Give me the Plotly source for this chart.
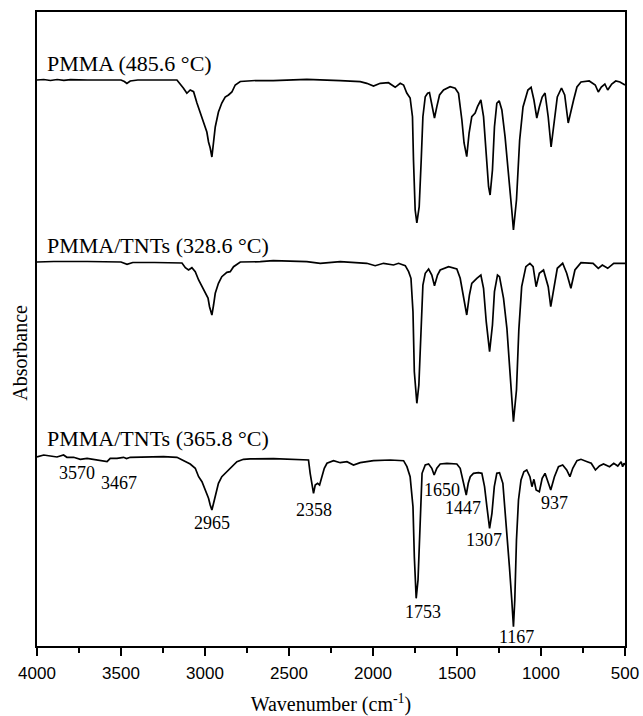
import plotly.graph_objects as go

# ---- Data (arbitrary absorbance units) ----
# Each spectrum: wavenumbers (cm-1) and band depth below its own stacked baseline
wn_pmma = [4000, 3960, 3920, 3880, 3840, 3800, 3700, 3600, 3500, 3480, 3465, 3445, 3400, 3300, 3200, 3167,
           3128, 3108, 3088, 3068, 3048, 3028, 3009, 2989, 2979, 2969, 2959, 2949, 2939, 2920, 2900, 2880,
           2860, 2840, 2820, 2790, 2700, 2594, 2394, 2195, 2076, 2037, 1997, 1957, 1908, 1868, 1838, 1818,
           1799, 1779, 1765, 1759, 1749, 1739, 1725, 1713, 1703, 1689, 1675, 1664, 1650, 1634, 1620, 1604,
           1580, 1541, 1511, 1491, 1471, 1458, 1442, 1428, 1412, 1392, 1378, 1358, 1342, 1326, 1312, 1303,
           1289, 1277, 1263, 1249, 1233, 1214, 1194, 1174, 1164, 1146, 1127, 1107, 1078, 1059, 1042, 1025,
           1010, 993, 976, 957, 940, 920, 903, 878, 859, 838, 822, 806, 786, 762, 713, 677, 659, 641, 620,
           603, 579, 555, 530, 506, 500]
band_pmma = [0, -0.5, 0.5, -0.5, 0.3, -0.3, 0, 0, 0, 1.5, 3.5, 1, 0, 0, 0, 0,
             8.3, 13.3, 10, 11.7, 23, 33, 42, 52, 62, 68, 77, 63, 47, 32, 23, 17,
             15, 12, 5, 1.5, 0.5, 0.7, -0.7, 0.7, 1.7, 3.3, 6, 3.3, 2.7, 7.3, 3.3, 5,
             13, 18, 36.7, 80, 130, 143, 126.7, 80, 36.7, 16.7, 13.3, 12.7, 23, 38, 26.7, 15,
             10, 6.7, 8.3, 13.3, 40, 63, 76.7, 53, 36.7, 33, 26.7, 20, 36.7, 73, 106.7, 115,
             90, 46.7, 23.3, 20.7, 30, 56.7, 90, 130, 150, 120, 60, 27, 10, 7.3, 20, 38,
             27, 17, 13, 37, 67, 40, 17, 8, 15, 43, 30, 20, 7, 2, 1, 5, 12, 7, 4,
             10, 4, 1, 2, 5, 5]

wn_tnt1 = [4000, 3900, 3700, 3500, 3464, 3430, 3300, 3137, 3117, 3098, 3078, 3058, 3038, 3018, 2998, 2982,
           2973, 2959, 2949, 2939, 2920, 2900, 2870, 2850, 2830, 2800, 2790, 2671, 2594, 2394, 2314, 2195,
           2037, 1987, 1937, 1878, 1848, 1808, 1788, 1774, 1762, 1754, 1739, 1727, 1715, 1703, 1689, 1669,
           1650, 1634, 1616, 1600, 1550, 1501, 1481, 1461, 1442, 1426, 1412, 1382, 1358, 1342, 1326, 1306,
           1289, 1277, 1259, 1247, 1223, 1203, 1183, 1164, 1146, 1132, 1115, 1090, 1066, 1047, 1029, 1010,
           985, 957, 942, 920, 903, 871, 847, 822, 798, 762, 690, 659, 635, 603, 567, 506, 500]
band_tnt1 = [0, -0.5, -0.5, 0, 2.3, 0.5, 0.5, 1, 5.7, 8, 5.7, 9.7, 18, 24.7, 31.3, 36,
             44.7, 53, 43, 31.3, 21.3, 14.7, 10.3, 9.7, 4.7, 1.3, 0, -0.3, -1.3, -0.3, 1.3, -0.3,
             1.3, 3.7, 1.3, 3, 1.3, 3.7, 9.7, 16.3, 49.7, 109.7, 141.3, 123, 66, 23, 11.3, 7,
             13, 23.7, 13, 8, 4.7, 7, 16.3, 36.3, 53, 33, 21.3, 16.3, 13, 26.3, 59.7, 89.7,
             63, 29.7, 13, 14.7, 36.3, 66.3, 109.7, 159.7, 128, 68, 24.7, 4.7, 1.3, 4.7, 24.7, 11.3,
             8, 24.7, 44.7, 24.7, 6.3, 1.3, 11.3, 26.3, 8, 0.7, 1.3, 6.3, 3, 6.3, 1.3, 1.3, 1.3]

wn_tnt2 = [4000, 3960, 3921, 3881, 3842, 3822, 3782, 3742, 3702, 3663, 3623, 3583, 3564, 3524, 3485, 3467,
           3445, 3345, 3247, 3167, 3127, 3088, 3058, 3038, 3018, 2998, 2979, 2969, 2959, 2949, 2935, 2920,
           2900, 2870, 2840, 2810, 2771, 2731, 2592, 2394, 2384, 2374, 2364, 2354, 2344, 2330, 2318, 2304,
           2290, 2274, 2235, 2195, 2155, 2116, 2076, 1997, 1897, 1818, 1798, 1779, 1762, 1754, 1743, 1732,
           1720, 1708, 1689, 1669, 1650, 1636, 1620, 1600, 1560, 1501, 1481, 1465, 1455, 1445, 1433, 1421,
           1402, 1372, 1352, 1336, 1322, 1306, 1292, 1278, 1263, 1247, 1227, 1207, 1188, 1174, 1164, 1156,
           1146, 1134, 1119, 1102, 1085, 1066, 1054, 1042, 1029, 1010, 993, 976, 957, 942, 920, 896,
           871, 847, 828, 811, 786, 762, 725, 701, 676, 652, 628, 592, 567, 543, 523, 514, 506, 500]
band_tnt2 = [0, -2, -1, 0, -2, 0.3, 0.3, 2.3, 1.3, 2.3, 3, 4.7, 1.3, 1.3, 0.3, 1.5,
             0.3, -0.3, -0.3, 0.3, 3.7, 7, 11.3, 19.7, 24.7, 33, 41.3, 48, 53, 46.3, 36.3, 26.3,
             19.7, 14.7, 9.7, 4.7, 2.3, 1.8, 1.7, 2.3, 3, 16.3, 26.3, 36.3, 28, 26.3, 28, 19.7,
             11.3, 6.3, 3.7, 5.7, 4.7, 8, 5.7, 3.7, 3, 3.7, 9.7, 19.7, 49.7, 99.7, 141.3, 123,
             66.3, 16.3, 8, 7, 11.3, 18, 11.3, 7, 6.3, 7, 11.3, 23, 28, 38, 26.3, 19.7,
             16.3, 15.7, 16.3, 29.7, 49.7, 71.3, 56.3, 29.7, 16.3, 15.7, 26.3, 66.3, 109.7, 143, 169.7, 143,
             83, 43, 23, 14.7, 13, 19.7, 29.7, 22.3, 33, 34.7, 21.3, 16.3, 24.7, 33, 19.7, 9.7,
             8, 13, 19.7, 11.3, 3.7, 2.3, 4.7, 6.3, 13, 9, 7, 9.7, 6.3, 9, 4.7, 9.7, 6.3, 8]

# stacking offsets of the three spectra
offsets = [566, 384, 189]
names = ["PMMA (485.6 °C)", "PMMA/TNTs (328.6 °C)", "PMMA/TNTs (365.8 °C)"]
name_y = [583, 401, 208]

# peak labels for the bottom spectrum
peak_text = ["3570", "3467", "2965", "2358", "1753", "1650", "1447", "1307", "1167", "937"]
peak_x = [3762, 3514, 2959, 2354, 1703, 1588, 1465, 1338, 1143, 920]
peak_y = [173, 163, 123, 136, 34, 156, 138, 106, 9, 143]

serif = "Liberation Serif, Times New Roman, serif"
sans = "Liberation Sans, Arial, sans-serif"

fig = go.Figure()
series = [(wn_pmma, band_pmma), (wn_tnt1, band_tnt1), (wn_tnt2, band_tnt2)]
for (wn, band), off, nm in zip(series, offsets, names):
    fig.add_trace(go.Scatter(x=wn, y=[off - b for b in band], mode="lines", name=nm,
                             line=dict(color="black", width=1.7), showlegend=False))

for nm, yy in zip(names, name_y):
    fig.add_annotation(x=3951, y=yy, text=nm, showarrow=False, xanchor="left", yanchor="middle",
                       font=dict(family=serif, size=22, color="black"))

for t, xx, yy in zip(peak_text, peak_x, peak_y):
    fig.add_annotation(x=xx, y=yy, text=t, showarrow=False, xanchor="center", yanchor="middle",
                       font=dict(family=serif, size=18, color="black"))

# y-axis title (placed slightly below the axis centre, as in the reference)
fig.add_annotation(xref="paper", yref="paper", x=-0.028, y=0.462, text="Absorbance",
                   textangle=-90, showarrow=False, xanchor="center", yanchor="middle",
                   font=dict(family=serif, size=20, color="black"))

fig.update_layout(
    width=643, height=716,
    margin=dict(l=37, r=18, t=12, b=70, autoexpand=False),
    paper_bgcolor="white", plot_bgcolor="white",
    showlegend=False,
)
fig.update_xaxes(
    range=[4000, 500], autorange=False, dtick=500, tick0=500,
    ticks="outside", ticklen=8, tickwidth=1.8, tickcolor="black",
    minor=dict(dtick=250, ticks="outside", ticklen=5, tickwidth=1.8, tickcolor="black"),
    showline=True, linewidth=1.8, linecolor="black", mirror=True,
    showgrid=False, zeroline=False, ticklabelstandoff=3,
    tickfont=dict(family=sans, size=17, color="black"),
    title=dict(text="Wavenumber (cm<sup>-1</sup>)", font=dict(family=serif, size=20, color="black"), standoff=18),
)
fig.update_yaxes(
    range=[0, 634], autorange=False,
    showticklabels=False, ticks="",
    showline=True, linewidth=1.8, linecolor="black", mirror=True,
    showgrid=False, zeroline=False,
)

fig.write_html("out.html")
